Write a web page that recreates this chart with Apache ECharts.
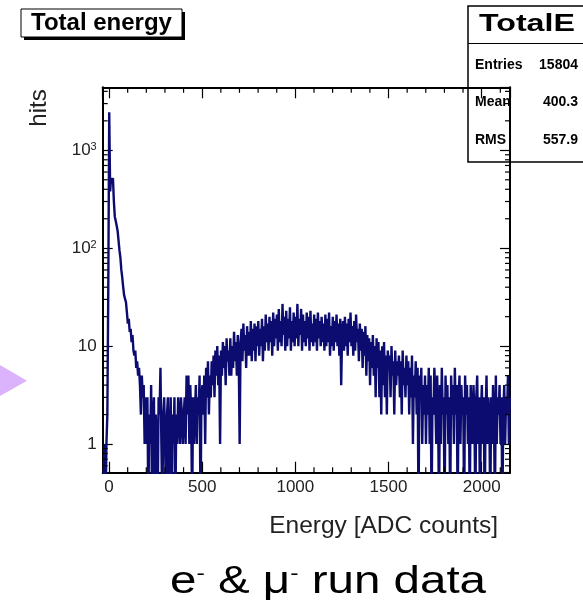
<!DOCTYPE html>
<html>
<head>
<meta charset="utf-8">
<script src="https://cdn.jsdelivr.net/npm/echarts@6/dist/echarts.min.js"></script>
<style>
html,body{margin:0;padding:0;background:#fff;}
#chart{width:583px;height:606px;}
</style>
</head>
<body>
<div id="chart"></div>
<script>
// ---- data ----
const binStart = -34;      // lower edge of first bin [ADC counts]
const binWidth = 5;        // bin width [ADC counts]
const counts = [
  // -34 .. 166 (pedestal spike and fall-off)
  0,0,1,0,1,2,40,2450,380,520,
  480,520,300,210,190,170,150,120,95,80,
  60,50,40,33,32,28,22,17,19,14,
  15,11,13,9,8,9,6,7,5,6,
  // 166 .. 200
  4,2,5,3,4,1,3,
  // 201 .. 500
  1,3,0,2,1,4,0,2,3,0,
  2,1,0,3,2,6,1,0,2,3,
  1,0,2,3,0,1,3,0,2,1,
  3,0,2,1,3,2,1,3,2,1,
  2,3,1,5,2,5,1,4,2,0,
  3,1,2,4,1,3,2,5,0,3,
  // 501 .. 650
  4,2,5,1,6,3,7,2,5,3,
  7,4,8,3,9,5,10,4,8,1,
  9,5,11,6,10,4,12,7,9,5,
  // 651 .. 850
  12,5,10,6,14,7,11,5,13,8,
  1,11,15,7,17,9,13,6,16,8,
  14,8,18,7,15,9,17,7,16,10,
  18,8,15,10,19,7,16,9,21,11,
  // 851 .. 1250
  17,9,20,11,18,8,22,10,19,12,
  21,9,24,11,18,10,27,13,20,9,
  23,10,19,12,25,9,18,11,22,10,
  20,12,27,10,19,13,24,9,21,11,
  18,10,22,12,20,9,23,11,17,10,
  21,11,19,9,22,12,18,10,20,11,
  17,9,21,10,19,11,22,8,16,10,
  20,9,18,11,21,10,17,8,19,4,
  // 1251 .. 1500
  14,18,9,20,10,17,8,19,11,22,
  10,16,8,18,9,21,11,15,7,17,
  9,15,6,14,8,16,5,13,7,12,
  4,11,6,13,5,10,3,12,6,11,
  3,9,2,10,4,11,3,8,2,9,
  // 1501 .. 1700
  6,8,3,10,5,7,2,9,4,7,
  5,8,3,7,2,9,4,6,3,8,
  4,7,2,6,3,8,1,5,3,7,
  2,6,0,5,3,6,1,4,2,5,
  // 1701 .. 2156
  1,4,2,6,1,5,0,3,2,6,
  3,1,5,2,0,4,1,6,2,3,
  0,5,2,4,1,3,0,5,2,4,
  1,6,2,4,0,3,5,1,4,2,
  3,0,5,2,4,1,3,0,4,2,
  1,4,2,0,3,5,1,3,0,2,
  4,1,3,0,2,5,1,3,2,0,
  3,1,4,2,0,5,1,3,2,4,
  1,3,0,2,4,1,3,2,5,1,3
];
const xMin = -34, xMax = 2152;
const yMin = 0.51, yMax = 4400;
const xMinorTicks = [100,200,300,400,600,700,800,900,1100,1200,1300,1400,1600,1700,1800,1900,2100];
const yMinorTicks = [0.6,0.7,0.8,0.9,2,3,4,5,6,7,8,9,20,30,40,50,60,70,80,90,200,300,400,500,600,700,800,900,2000,3000,4000];
const yTickLabels = {1:'1', 10:'10', 100:'{b|10}{s|2}', 1000:'{b|10}{s|3}'};
const statsTitle = 'TotalE';
const statsRows = [['Entries','15804'],['Mean','400.3'],['RMS','557.9']];

// ---- build step-histogram points (bin edges) ----
const zeroFloor = 0.2; // empty bins drawn down past the bottom of the frame
const histPts = [];
for (let i = 0; i < counts.length; i++) {
  histPts.push([binStart + i*binWidth, counts[i] > 0 ? counts[i] : zeroFloor]);
}
histPts.push([binStart + counts.length*binWidth, counts[counts.length-1] > 0 ? counts[counts.length-1] : zeroFloor]);

const FONT = 'Liberation Sans, Arial, Helvetica, sans-serif';
const chart = echarts.init(document.getElementById('chart'), null, {renderer:'canvas'});

const axisLine = {show:true, onZero:false, lineStyle:{color:'#000', width:2}};
const xCommon = {
  type:'value', min:xMin, max:xMax, splitNumber:5,
  splitLine:{show:false}, axisLine: axisLine,
  axisTick:{show:true, inside:true, length:11, lineStyle:{color:'#000', width:1.2}}
};
const yCommon = {
  type:'log', logBase:10, min:yMin, max:yMax,
  splitLine:{show:false}, axisLine: axisLine,
  axisTick:{show:true, inside:true, length:10, lineStyle:{color:'#000', width:1.2}}
};

const statsChildren = [
  {type:'rect', shape:{x:468, y:6, width:130, height:156}, style:{fill:'#fff', stroke:'#000', lineWidth:1.5}},
  {type:'line', shape:{x1:468, y1:43.5, x2:600, y2:43.5}, style:{stroke:'#000', lineWidth:1}},
  {type:'text', x:479, y:24, scaleX:1.34, style:{text:statsTitle, font:'bold 24px '+FONT, fill:'#000', align:'left', verticalAlign:'middle'}}
];
statsRows.forEach((r, k) => {
  const yy = 65 + k*37.5;
  statsChildren.push({type:'text', x:475, y:yy, style:{text:r[0], font:'bold 14px '+FONT, fill:'#000', align:'left', verticalAlign:'middle'}});
  statsChildren.push({type:'text', x:578, y:yy, style:{text:r[1], font:'bold 14px '+FONT, fill:'#000', align:'right', verticalAlign:'middle'}});
});

const tickStyle = {stroke:'#000', lineWidth:1.2};

chart.setOption({
  animation:false,
  backgroundColor:'#fff',
  grid:{left:102.7, right:73, top:87.3, bottom:133.3, containLabel:false},
  xAxis:[
    Object.assign({}, xCommon, {position:'bottom',
      axisLabel:{show:true, margin:6, fontSize:17, fontFamily:FONT, color:'#222', showMinLabel:false, showMaxLabel:false,
        formatter: v => (v % 500 === 0 ? String(v) : '')}}),
    Object.assign({}, xCommon, {position:'top', axisLabel:{show:false}})
  ],
  yAxis:[
    Object.assign({}, yCommon, {position:'left',
      axisLabel:{show:true, margin:6, fontSize:17, fontFamily:FONT, color:'#222', showMinLabel:false, showMaxLabel:false,
        formatter: v => { const k = Math.round(v); return (Math.abs(v-k) < 1e-6 && yTickLabels[k]) ? yTickLabels[k] : ''; },
        rich:{b:{fontSize:17, fontFamily:FONT, color:'#222'}, s:{fontSize:11, fontFamily:FONT, color:'#222', verticalAlign:'top'}}}}),
    Object.assign({}, yCommon, {position:'right', axisLabel:{show:false}})
  ],
  series:[
    {type:'line', name:'TotalE', xAxisIndex:0, yAxisIndex:0, data:histPts, step:'end',
     showSymbol:false, symbol:'none', clip:true, z:3,
     lineStyle:{color:'#0c0c70', width:2.4}},
    {type:'custom', xAxisIndex:0, yAxisIndex:0, silent:true, clip:false, z:4,
     data:xMinorTicks.map(v => [v, 1]), encode:{x:0, y:1},
     renderItem:function(params, api){
        const cs = params.coordSys; const p = api.coord([api.value(0), 1]);
        return {type:'group', children:[
          {type:'line', shape:{x1:p[0], y1:cs.y+cs.height, x2:p[0], y2:cs.y+cs.height-5.5}, style:tickStyle},
          {type:'line', shape:{x1:p[0], y1:cs.y, x2:p[0], y2:cs.y+5.5}, style:tickStyle}
        ]};
     }},
    {type:'custom', xAxisIndex:0, yAxisIndex:0, silent:true, clip:false, z:4,
     data:yMinorTicks.map(v => [0, v]), encode:{x:0, y:1},
     renderItem:function(params, api){
        const cs = params.coordSys; const p = api.coord([0, api.value(1)]);
        return {type:'group', children:[
          {type:'line', shape:{x1:cs.x, y1:p[1], x2:cs.x+5, y2:p[1]}, style:tickStyle},
          {type:'line', shape:{x1:cs.x+cs.width, y1:p[1], x2:cs.x+cs.width-5, y2:p[1]}, style:tickStyle}
        ]};
     }}
  ],
  graphic:[
    {type:'polygon', z:50, shape:{points:[[0,365],[27,380.7],[0,396]]}, style:{fill:'#dbb3fc'}},
    {type:'rect', z:50, shape:{x:24, y:12, width:161, height:28}, style:{fill:'#000'}},
    {type:'rect', z:51, shape:{x:21, y:9, width:161, height:28}, style:{fill:'#fff', stroke:'#000', lineWidth:1}},
    {type:'text', z:52, x:101.5, y:23.5, style:{text:'Total energy', font:'bold 24px '+FONT, fill:'#000', align:'center', verticalAlign:'middle'}},
    {type:'group', z:60, children:statsChildren},
    {type:'text', z:52, x:39, y:108, rotation:Math.PI/2, style:{text:'hits', font:'24px '+FONT, fill:'#222', align:'center', verticalAlign:'middle'}},
    {type:'text', z:52, x:498, y:526, style:{text:'Energy [ADC counts]', font:'24.5px '+FONT, fill:'#222', align:'right', verticalAlign:'middle'}},
    {type:'text', z:52, x:170, y:583, scaleX:1.25, style:{text:'{m|e}{s|-}{m| & μ}{s|-}{m| run data}', align:'left', verticalAlign:'middle',
      rich:{m:{font:'38px '+FONT, fill:'#000'}, s:{font:'20px '+FONT, fill:'#000', verticalAlign:'top'}}}}
  ]
});
</script>
</body>
</html>
